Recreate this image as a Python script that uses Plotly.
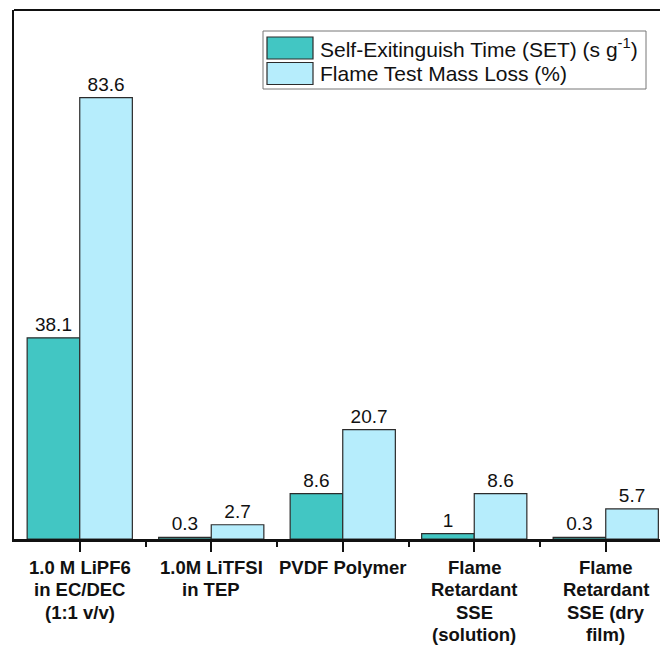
import plotly.graph_objects as go

# Electrolyte / membrane systems compared in the flame test
categories = [
    "1.0 M LiPF6<br>in EC/DEC<br>(1:1 v/v)",
    "1.0M LiTFSI<br>in TEP",
    "PVDF Polymer",
    "Flame<br>Retardant<br>SSE<br>(solution)",
    "Flame<br>Retardant<br>SSE (dry<br>film)",
]
set_values = [38.1, 0.3, 8.6, 1, 0.3]          # self-extinguishing time, s g^-1
mass_loss_values = [83.6, 2.7, 20.7, 8.6, 5.7]  # flame test mass loss, %

series_names = ["Self-Exitinguish Time (SET) (s g<sup>-1</sup>)", "Flame Test Mass Loss (%)"]
colors = ["#42C6C3", "#B6EDFC"]
edge = "#2b2b2b"

W, H = 660, 647
ML, MR, MT, MB = 14, 0, 10, 108
PW, PH = W - ML - MR, H - MT - MB


def px_x(x):
    return (x - ML) / PW


def px_y(y):
    return (H - MB - y) / PH


xs = list(range(len(categories)))
fig = go.Figure()
for name, vals, col in zip(series_names, [set_values, mass_loss_values], colors):
    fig.add_trace(go.Bar(
        x=xs, y=vals, name=name,
        marker=dict(color=col, line=dict(color=edge, width=1.2)),
        texttemplate="%{y}", textposition="outside", cliponaxis=False,
        constraintext="none",
        textfont=dict(family="Liberation Sans, Arial", size=19, color="#111"),
        showlegend=False,
    ))

# Hand-drawn legend box with large swatches
shapes = [
    dict(type="line", xref="paper", yref="paper", x0=0, x1=1, y0=1, y1=1,
         line=dict(color="#111", width=2)),
    dict(type="rect", xref="paper", yref="paper",
         x0=px_x(263), x1=px_x(646), y0=px_y(89), y1=px_y(31),
         line=dict(color="#777", width=1), fillcolor="white"),
]
annotations = []
for i, (name, col) in enumerate(zip(series_names, colors)):
    top = 37 + i * 25.5
    shapes.append(dict(type="rect", xref="paper", yref="paper",
                       x0=px_x(267), x1=px_x(313), y0=px_y(top + 22), y1=px_y(top),
                       line=dict(color=edge, width=1.2), fillcolor=col))
    annotations.append(dict(xref="paper", yref="paper", x=px_x(318), y=px_y(top + 11),
                            xanchor="left", yanchor="middle", showarrow=False, text=name,
                            font=dict(family="Liberation Sans, Arial", size=21, color="#111")))

# Category labels under each tick, set line by line for tighter leading
label_font = dict(family="Liberation Sans, Arial", size=18.5, color="#111", weight="bold")
for xi, cat in zip(xs, categories):
    for k, line in enumerate(cat.split("<br>")):
        annotations.append(dict(xref="x", yref="paper", x=xi, y=px_y(567.5 + k * 22.3),
                                xanchor="center", yanchor="middle", showarrow=False,
                                text=line, font=label_font))

fig.update_layout(
    width=W, height=H,
    margin=dict(l=ML, r=MR, t=MT, b=MB),
    paper_bgcolor="white", plot_bgcolor="white",
    barmode="group", bargap=0.2, bargroupgap=0,
    shapes=shapes, annotations=annotations,
    xaxis=dict(
        range=[-0.5, -0.5 + PW / 131.5], automargin=False,
        tickmode="array", tickvals=xs, showticklabels=False,
        ticks="outside", ticklen=10, tickwidth=1.5, tickcolor="#111",
        minor=dict(tickvals=[0.5, 1.5, 2.5, 3.5], ticks="outside", ticklen=5,
                   tickwidth=1.5, tickcolor="#111"),
        showline=True, linecolor="#111", linewidth=2.5,
        showgrid=False, zeroline=False,
    ),
    yaxis=dict(
        range=[0, 100.2], showticklabels=False, ticks="", automargin=False,
        showline=True, linecolor="#111", linewidth=2,
        showgrid=False, zeroline=False,
    ),
)

fig.write_html("out.html")
